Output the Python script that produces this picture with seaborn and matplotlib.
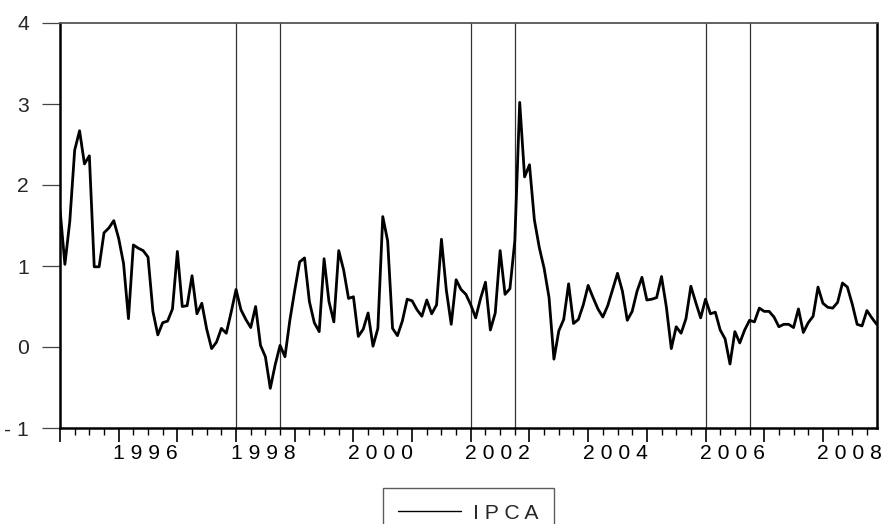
import numpy as np
import pandas as pd
import matplotlib
matplotlib.use("Agg")
import matplotlib.pyplot as plt
import matplotlib.transforms as mtransforms
import seaborn as sns

# Monthly IPCA (% per month), 1995M01 - 2008M12
ipca_1995 = [1.70, 1.02, 1.55, 2.43, 2.67, 2.26, 2.36, 0.99, 0.99, 1.41, 1.47, 1.56]
ipca_1996 = [1.34, 1.03, 0.35, 1.26, 1.22, 1.19, 1.11, 0.44, 0.15, 0.30, 0.32, 0.47]
ipca_1997 = [1.18, 0.50, 0.51, 0.88, 0.41, 0.54, 0.22, -0.02, 0.06, 0.23, 0.17, 0.43]
ipca_1998 = [0.71, 0.46, 0.34, 0.24, 0.50, 0.02, -0.12, -0.51, -0.22, 0.02, -0.12, 0.33]
ipca_1999 = [0.70, 1.05, 1.10, 0.56, 0.30, 0.19, 1.09, 0.56, 0.31, 1.19, 0.95, 0.60]
ipca_2000 = [0.62, 0.13, 0.22, 0.42, 0.01, 0.23, 1.61, 1.31, 0.23, 0.14, 0.32, 0.59]
ipca_2001 = [0.57, 0.46, 0.38, 0.58, 0.41, 0.52, 1.33, 0.70, 0.28, 0.83, 0.71, 0.65]
ipca_2002 = [0.52, 0.36, 0.60, 0.80, 0.21, 0.42, 1.19, 0.65, 0.72, 1.31, 3.02, 2.10]
ipca_2003 = [2.25, 1.57, 1.23, 0.97, 0.61, -0.15, 0.20, 0.34, 0.78, 0.29, 0.34, 0.52]
ipca_2004 = [0.76, 0.61, 0.47, 0.37, 0.51, 0.71, 0.91, 0.69, 0.33, 0.44, 0.69, 0.86]
ipca_2005 = [0.58, 0.59, 0.61, 0.87, 0.49, -0.02, 0.25, 0.17, 0.35, 0.75, 0.55, 0.36]
ipca_2006 = [0.59, 0.41, 0.43, 0.21, 0.10, -0.21, 0.19, 0.05, 0.21, 0.33, 0.31, 0.48]
ipca_2007 = [0.44, 0.44, 0.37, 0.25, 0.28, 0.28, 0.24, 0.47, 0.18, 0.30, 0.38, 0.74]
ipca_2008 = [0.54, 0.49, 0.48, 0.55, 0.79, 0.74, 0.53, 0.28, 0.26, 0.45, 0.36, 0.28]

ipca = (ipca_1995 + ipca_1996 + ipca_1997 + ipca_1998 + ipca_1999 + ipca_2000 +
        ipca_2001 + ipca_2002 + ipca_2003 + ipca_2004 + ipca_2005 + ipca_2006 +
        ipca_2007 + ipca_2008)

start_period = "1995-01"
event_dates = ["1998-01", "1998-10", "2002-01", "2002-10", "2006-01", "2006-10"]
label_years = [1996, 1998, 2000, 2002, 2004, 2006, 2008]
ytick_values = [-1, 0, 1, 2, 3, 4]
ytick_labels = ["- 1", "0", "1", "2", "3", "4"]
series_name = "I P C A"

periods = pd.period_range(start_period, periods=len(ipca), freq="M")
df = pd.DataFrame({"obs": np.arange(len(ipca)), "IPCA": ipca})

sns.set_style("white")
plt.rcParams["font.family"] = ["Liberation Sans", "DejaVu Sans"]

FS = 15.2

fig = plt.figure(figsize=(8.85, 5.24), dpi=100)
ax = fig.add_axes([60 / 885, (524 - 428) / 524, (876.7 - 60) / 885, (428 - 23) / 524])

# event lines
for d in event_dates:
    idx = int((pd.Period(d, freq="M") - periods[0]).n)
    ax.axvline(idx, color="#333333", lw=0.9, zorder=1)

sns.lineplot(data=df, x="obs", y="IPCA", ax=ax, color="black", lw=2.0,
             label=series_name, zorder=3)

ax.set_xlim(0, len(ipca) - 1)
ax.set_ylim(-1, 4)
ax.set_xlabel("")
ax.set_ylabel("")

# y axis
ax.set_yticks(ytick_values)
ax.set_yticklabels(ytick_labels, fontsize=FS)
ax.tick_params(axis="y", which="major", direction="out", length=13, width=0.9,
               color="#444444", pad=9.5, left=True)

# x axis: yearly major ticks, quarterly minor ticks
year_starts = [i for i, p in enumerate(periods) if p.month == 1]
quarter_pos = [i for i, p in enumerate(periods) if p.month in (4, 7, 10)]
ax.set_xticks(year_starts)
ax.set_xticklabels([])
ax.set_xticks(quarter_pos, minor=True)
ax.tick_params(axis="x", which="major", direction="out", length=10, width=1.2,
               color="black", bottom=True)
ax.tick_params(axis="x", which="minor", direction="out", length=5, width=1.0,
               color="black", bottom=True)

trans = mtransforms.blended_transform_factory(ax.transData, ax.transAxes)
for yr in label_years:
    idx = int((pd.Period(f"{yr}-01", freq="M") - periods[0]).n)
    ax.text(idx + 5.5, -0.040, " ".join(str(yr)), transform=trans,
            ha="center", va="top", fontsize=FS, color="black")

for side in ["left", "bottom", "right"]:
    ax.spines[side].set_color("black")
    ax.spines[side].set_linewidth(1.8)
    ax.spines[side].set_visible(True)
ax.spines["top"].set_color("#555555")
ax.spines["top"].set_linewidth(1.3)
ax.spines["top"].set_visible(True)
ax.grid(False)

ax_center = (60 + 876.7) / 2 / 885
leg = ax.legend(loc="upper center", bbox_to_anchor=(ax_center, 1 - 488 / 524),
                bbox_transform=fig.transFigure, frameon=True, fancybox=False,
                shadow=False, fontsize=FS, handlelength=2.95, handletextpad=0.58,
                borderpad=0.75, borderaxespad=0)
leg.get_frame().set_edgecolor("#333333")
leg.get_frame().set_linewidth(1.0)
for h in leg.get_lines():
    h.set_linewidth(1.0)

fig.savefig("out.png", dpi=100)
